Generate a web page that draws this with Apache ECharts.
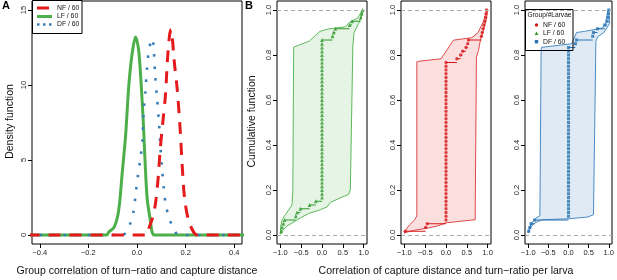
<!DOCTYPE html>
<html>
<head>
<meta charset="utf-8">
<script src="https://cdn.jsdelivr.net/npm/echarts@6/dist/echarts.min.js"></script>
<style>
  html, body { margin: 0; padding: 0; background: #fff; }
  #chart { width: 617px; height: 280px; }
</style>
</head>
<body>
<div id="chart"></div>
<script>
// ---- panel A: density of group correlation, [x, density]
const nfDensity = [[-0.45, 0], [0.04, 0], [0.05, 0.5], [0.063, 1.1], [0.076, 2.1], [0.086, 3.6], [0.096, 5.8],
  [0.106, 7.5], [0.117, 9.3], [0.125, 11.6], [0.133, 13.2], [0.14, 13.7], [0.146, 13.0], [0.153, 11.6],
  [0.165, 9.8], [0.177, 7.2], [0.186, 4.6], [0.196, 2.4], [0.21, 1.1], [0.226, 0.4], [0.24, 0.05], [0.25, 0], [0.45, 0]];
const lfDensity = [[-0.45, 0], [-0.125, 0], [-0.116, 0.2], [-0.095, 0.5], [-0.079, 1.3], [-0.07, 2.4], [-0.061, 4.1],
  [-0.047, 6.6], [-0.034, 9.9], [-0.02, 12.1], [-0.006, 13.2], [0.007, 12.3], [0.021, 9.0], [0.028, 6.8],
  [0.032, 5.3], [0.042, 2.4], [0.055, 0.95], [0.062, 0.2], [0.072, 0], [0.45, 0]];
const dfDensity = [[-0.45, 0], [-0.06, 0], [-0.04, 0.3], [-0.027, 0.8], [-0.014, 1.6], [-0.005, 2.8], [0.004, 4.0],
  [0.015, 5.2], [0.022, 6.3], [0.027, 8.2], [0.035, 9.6], [0.041, 11.1], [0.05, 12.4], [0.063, 13.1],
  [0.069, 12.4], [0.074, 10.8], [0.082, 9.2], [0.09, 7.6], [0.096, 6.0], [0.103, 4.5], [0.11, 3.1],
  [0.12, 1.9], [0.135, 1.0], [0.155, 0.3], [0.17, 0], [0.45, 0]];
const densityTicksX = [-0.4, -0.2, 0, 0.2, 0.4];
const densityTicksY = [0, 5, 10, 15];

// ---- panel B: sorted correlation per larva (60 larvae per group)
const nfCorr = [-0.98, -0.49, -0.45,
  0, 0, 0, 0, 0, 0, 0, 0, 0, 0, 0, 0, 0, 0, 0, 0, 0, 0, 0, 0, 0, 0,
  0, 0, 0, 0, 0, 0, 0, 0, 0, 0, 0, 0, 0, 0, 0, 0, 0, 0, 0, 0, 0,
  0.26, 0.35, 0.40, 0.48, 0.52, 0.54,
  0.85, 0.87, 0.89, 0.91, 0.93, 0.95, 0.96, 0.97];
const lfCorr = [-0.98, -0.96, -0.93, -0.90, -0.63, -0.60, -0.52, -0.30, -0.15,
  0, 0, 0, 0, 0, 0, 0, 0, 0, 0, 0, 0, 0, 0, 0, 0, 0, 0, 0, 0, 0, 0,
  0, 0, 0, 0, 0, 0, 0, 0, 0, 0, 0, 0, 0, 0, 0, 0, 0, 0, 0, 0, 0,
  0.25, 0.28, 0.32, 0.66, 0.72, 0.93, 0.95, 0.97];
const dfCorr = [-0.99, -0.96, -0.93, -0.84,
  0, 0, 0, 0, 0, 0, 0, 0, 0, 0, 0, 0, 0, 0, 0, 0, 0, 0, 0, 0, 0, 0, 0,
  0, 0, 0, 0, 0, 0, 0, 0, 0, 0, 0, 0, 0, 0, 0, 0, 0, 0, 0, 0, 0, 0, 0,
  0.17, 0.20, 0.60, 0.62, 0.72, 0.90, 0.96, 0.98, 0.99, 1.0];

// envelope outlines, [x, cumulative], bottom to top
const nfBandLeft = [[-1.0, 0.008], [-0.95, 0.027], [-0.87, 0.046], [-0.75, 0.068], [-0.70, 0.085], [-0.70, 0.77],
  [-0.66, 0.772], [-0.12, 0.783], [0.18, 0.866], [0.62, 0.877], [0.77, 0.90], [0.9, 0.95], [0.98, 1.0]];
const nfBandRight = [[-1.0, 0.008], [-0.95, 0.012], [-0.79, 0.02], [-0.43, 0.031], [-0.19, 0.041], [0.0, 0.054],
  [0.70, 0.068], [0.73, 0.79], [0.78, 0.82], [0.83, 0.87], [0.9, 0.91], [0.97, 0.96], [1.0, 1.0]];
const lfBandLeft = [[-0.99, 0.004], [-1.0, 0.03], [-0.96, 0.068], [-0.88, 0.09], [-0.8, 0.112], [-0.72, 0.134],
  [-0.70, 0.2], [-0.68, 0.835], [-0.3, 0.862], [-0.14, 0.89], [-0.05, 0.905], [0.15, 0.916], [0.55, 0.925],
  [0.66, 0.945], [0.86, 0.965], [0.96, 0.997], [0.99, 1.0]];
const lfBandRight = [[-0.99, 0.004], [-0.94, 0.02], [-0.84, 0.04], [-0.64, 0.062], [-0.48, 0.08], [-0.3, 0.097],
  [-0.04, 0.112], [0.12, 0.125], [0.2, 0.145], [0.5, 0.17], [0.64, 0.18], [0.68, 0.2], [0.74, 0.84],
  [0.77, 0.9], [0.88, 0.94], [1.0, 1.0]];
const dfBandLeft = [[-1.0, 0.01], [-0.97, 0.031], [-0.91, 0.056], [-0.81, 0.075], [-0.71, 0.085], [-0.68, 0.82],
  [-0.67, 0.834], [0.08, 0.85], [0.2, 0.90], [0.4, 0.905], [0.84, 0.92], [0.92, 0.94], [0.98, 1.0]];
const dfBandRight = [[-1.0, 0.01], [-0.93, 0.038], [-0.81, 0.056], [-0.65, 0.068], [0.0, 0.072], [0.48, 0.08],
  [0.62, 0.09], [0.68, 0.86], [0.72, 0.88], [0.88, 0.90], [1.02, 0.94], [1.0, 1.0]];
const corrTicksX = [-1, -0.5, 0, 0.5, 1];
const cumTicksY = [0, 0.2, 0.4, 0.6, 0.8, 1];

const RED = '#e41a1c', GREEN = '#4daf4a', BLUE = '#377eb8';
const FONT = '"Liberation Sans", Arial, Helvetica, sans-serif';

const fmt1 = v => (v < 0 ? '\u2212' : '') + Math.abs(v).toFixed(1);
const fmt0 = v => String(v);

function xAxis(grid, min, max, ticks) {
  return {
    type: 'value', gridIndex: grid, min: min, max: max,
    axisLine: { show: false, onZero: false }, splitLine: { show: false },
    axisTick: { show: true, length: 4, customValues: ticks, lineStyle: { color: '#000', width: 1 } },
    axisLabel: { customValues: ticks, formatter: fmt1, fontSize: 7.5, color: '#222', margin: 5, fontFamily: FONT }
  };
}
function yAxis(grid, min, max, ticks, f) {
  return {
    type: 'value', gridIndex: grid, min: min, max: max,
    axisLine: { show: false, onZero: false }, splitLine: { show: false },
    axisTick: { show: true, length: 4, customValues: ticks, lineStyle: { color: '#000', width: 1 } },
    axisLabel: { customValues: ticks, formatter: f, rotate: 90, fontSize: 7.5, color: '#222', margin: 4, fontFamily: FONT }
  };
}

function bandSeries(k, left, right, fill, stroke) {
  const poly = left.concat(right.slice().reverse());
  return {
    type: 'custom', xAxisIndex: k, yAxisIndex: k, silent: true, z: 1, clip: true,
    data: [poly[0]],
    renderItem: function (params, api) {
      return {
        type: 'polygon',
        shape: { points: poly.map(p => api.coord(p)) },
        style: { fill: fill, stroke: stroke, lineWidth: 1 }
      };
    }
  };
}

// empirical cdf: horizontal steps only (no verticals), then the points
function ecdfSeries(k, xs, color, symbol, size) {
  const n = xs.length;
  const pts = xs.map((x, i) => [x, (i + 1) / n]);
  const steps = [];
  for (let i = 0; i < n - 1; i++) {
    if (xs[i + 1] > xs[i]) steps.push(pts[i], [xs[i + 1], pts[i][1]], '-');
  }
  return [
    { type: 'line', xAxisIndex: k, yAxisIndex: k, z: 2, data: steps, showSymbol: false,
      connectNulls: false, lineStyle: { color: color, width: 1 } },
    { type: 'scatter', xAxisIndex: k, yAxisIndex: k, z: 3, data: pts,
      symbol: symbol, symbolSize: size, itemStyle: { color: color },
      markLine: {
        silent: true, symbol: 'none', label: { show: false },
        lineStyle: { type: [4, 3], color: '#aaa', width: 1 },
        data: [{ yAxis: 0 }, { yAxis: 1 }]
      } }
  ];
}

const chart = echarts.init(document.getElementById('chart'));

const grids = [
  { left: 32, top: 1, width: 210, height: 243 },
  { left: 277, top: 1, width: 90, height: 243 },
  { left: 401, top: 1, width: 90, height: 243 },
  { left: 525, top: 1, width: 90, height: 243 }
].map(g => Object.assign(g, { show: true, borderColor: '#000', borderWidth: 1, backgroundColor: 'transparent' }));

const legendText = (x, y, t) => ({ type: 'text', x: x, y: y, z: 101,
  style: { text: t, fontSize: 6.8, fontFamily: FONT, fill: '#111', verticalAlign: 'middle' } });

chart.setOption({
  animation: false,
  grid: grids,
  xAxis: [
    xAxis(0, -0.432, 0.432, densityTicksX),
    xAxis(1, -1.08, 1.08, corrTicksX),
    xAxis(2, -1.08, 1.08, corrTicksX),
    xAxis(3, -1.08, 1.08, corrTicksX)
  ],
  yAxis: [
    yAxis(0, -0.6, 15.6, densityTicksY, fmt0),
    yAxis(1, -0.04, 1.04, cumTicksY, v => v.toFixed(1)),
    yAxis(2, -0.04, 1.04, cumTicksY, v => v.toFixed(1)),
    yAxis(3, -0.04, 1.04, cumTicksY, v => v.toFixed(1))
  ],
  series: [
    { type: 'line', name: 'LF / 60', data: lfDensity, showSymbol: false, smooth: 0.3, z: 2,
      lineStyle: { color: GREEN, width: 3 } },
    { type: 'line', name: 'DF / 60', data: dfDensity, showSymbol: false, smooth: 0.3, z: 3,
      lineStyle: { color: BLUE, width: 2.6, type: [2.5, 9.5] } },
    { type: 'line', name: 'NF / 60', data: nfDensity, showSymbol: false, smooth: 0.3, z: 4,
      lineStyle: { color: RED, width: 3, type: [12, 9] } },

    bandSeries(1, lfBandLeft, lfBandRight, 'rgba(77,175,74,0.14)', '#5cb85a'),
    ...ecdfSeries(1, lfCorr, '#2f9a2c', 'triangle', 3.8),
    bandSeries(2, nfBandLeft, nfBandRight, 'rgba(228,26,28,0.14)', '#e0484a'),
    ...ecdfSeries(2, nfCorr, '#d7191c', 'circle', 3.3),
    bandSeries(3, dfBandLeft, dfBandRight, 'rgba(55,126,184,0.16)', '#4a8cc4'),
    ...ecdfSeries(3, dfCorr, '#2b74b3', 'rect', 3.1)
  ],
  graphic: [
    { type: 'text', x: 2, y: 6, style: { text: 'A', fontSize: 11, fontWeight: 'bold', fontFamily: FONT, verticalAlign: 'middle' } },
    { type: 'text', x: 245, y: 6, style: { text: 'B', fontSize: 11, fontWeight: 'bold', fontFamily: FONT, verticalAlign: 'middle' } },
    { type: 'text', x: 10, y: 121.5, rotation: Math.PI / 2,
      style: { text: 'Density function', fontSize: 10.5, fontFamily: FONT, fill: '#111', align: 'center', verticalAlign: 'middle' } },
    { type: 'text', x: 252, y: 121.5, rotation: Math.PI / 2,
      style: { text: 'Cumulative function', fontSize: 10.5, fontFamily: FONT, fill: '#111', align: 'center', verticalAlign: 'middle' } },
    { type: 'text', x: 137, y: 271, style: { text: 'Group correlation of turn\u2212ratio and capture distance',
      fontSize: 10.5, fontFamily: FONT, fill: '#111', align: 'center', verticalAlign: 'middle' } },
    { type: 'text', x: 446, y: 271, style: { text: 'Correlation of capture distance and turn\u2212ratio per larva',
      fontSize: 10.5, fontFamily: FONT, fill: '#111', align: 'center', verticalAlign: 'middle' } },

    // legend, panel A
    { type: 'rect', z: 100, shape: { x: 32.5, y: 0.5, width: 49.5, height: 33 }, style: { fill: '#fff', stroke: '#000', lineWidth: 1 } },
    { type: 'line', z: 101, shape: { x1: 37, y1: 8, x2: 51, y2: 8 }, style: { stroke: RED, lineWidth: 3, lineDash: [12, 9] } },
    { type: 'line', z: 101, shape: { x1: 37, y1: 16.5, x2: 52, y2: 16.5 }, style: { stroke: GREEN, lineWidth: 3 } },
    { type: 'line', z: 101, shape: { x1: 37, y1: 24.5, x2: 52, y2: 24.5 }, style: { stroke: BLUE, lineWidth: 2.6, lineDash: [2.5, 3.5] } },
    legendText(57, 8, 'NF / 60'),
    legendText(57, 16.5, 'LF / 60'),
    legendText(57, 24.5, 'DF / 60'),

    // legend, panel B
    { type: 'rect', z: 100, shape: { x: 525.5, y: 9.5, width: 47.5, height: 41 }, style: { fill: 'rgba(255,255,255,0)', stroke: '#000', lineWidth: 1 } },
    { type: 'text', x: 549.5, y: 15.5, z: 101, style: { text: 'Group/#Larvae', fontSize: 6.6, fontFamily: FONT, fill: '#111', align: 'center', verticalAlign: 'middle' } },
    { type: 'circle', z: 101, shape: { cx: 536.5, cy: 25, r: 1.7 }, style: { fill: '#d7191c' } },
    { type: 'polygon', z: 101, shape: { points: [[536.5, 31.6], [534.6, 35], [538.4, 35]] }, style: { fill: '#2f9a2c' } },
    { type: 'rect', z: 101, shape: { x: 534.8, y: 40, width: 3.4, height: 3.4 }, style: { fill: '#2b74b3' } },
    legendText(543, 25, 'NF / 60'),
    legendText(543, 33.5, 'LF / 60'),
    legendText(543, 41.7, 'DF / 60')
  ]
});
</script>
</body>
</html>
